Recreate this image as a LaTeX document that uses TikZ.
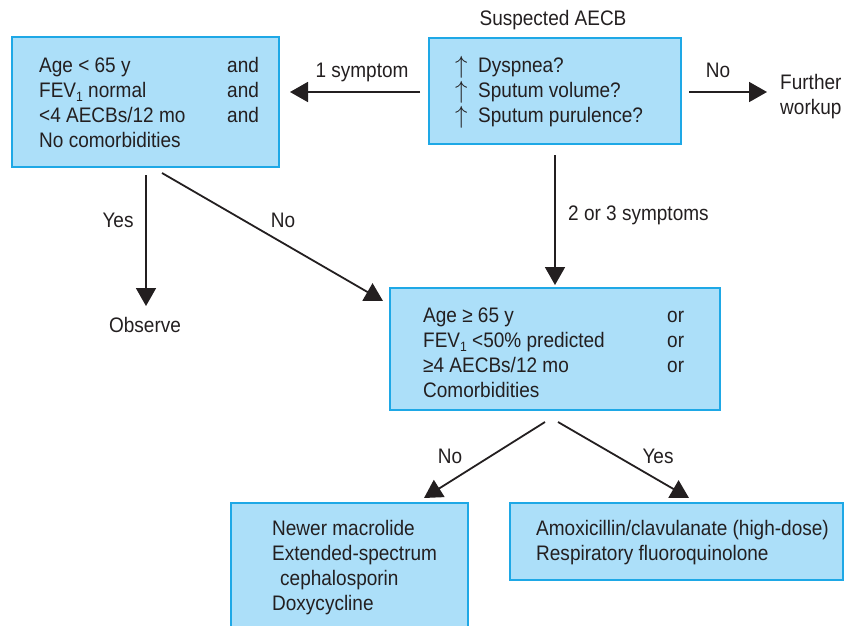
\documentclass[tikz,border=0pt]{standalone}
\usepackage{fontspec}
\setmainfont{Liberation Sans}[FakeStretch=0.905]
\usetikzlibrary{arrows.meta}
\definecolor{boxfill}{RGB}{172,223,249}
\definecolor{boxline}{RGB}{30,168,230}
\definecolor{ink}{RGB}{35,31,32}
\newcommand{\lowone}{\raisebox{-0.22em}{\fontsize{13.5}{13.5}\selectfont 1}}
\newcommand{\uparr}{\raisebox{-0.05em}{\fontsize{23}{23}\selectfont$\uparrow$}}
\tikzset{
  box/.style={draw=boxline, line width=2pt, fill=boxfill, inner sep=0pt, outer sep=0pt, anchor=north west},
  txt/.style={anchor=base west, inner sep=0pt, text=ink, font=\fontsize{21}{25}\selectfont},
  lbl/.style={anchor=base, inner sep=0pt, text=ink, font=\fontsize{21}{25}\selectfont},
  arr/.style={draw=ink, line width=1.8pt, -{Triangle[length=18pt,width=20pt]}},
}
\begin{document}
\begin{tikzpicture}[x=1pt,y=-1pt]
\useasboundingbox (0,0) rectangle (845,625);
% boxes
\node[box, minimum width=267pt, minimum height=130pt] (b1) at (12,37) {};
\node[box, minimum width=252pt, minimum height=106pt] (b2) at (429,38) {};
\node[box, minimum width=330pt, minimum height=122pt] (b3) at (390,288) {};
\node[box, minimum width=237pt, minimum height=130pt] (b4) at (231,503) {};
\node[box, minimum width=333pt, minimum height=77pt] (b5) at (510,503) {};
% box 1 text
\node[txt] (t11) at (39,72) {Age < 65 y};
\node[txt] (t12) at (39,97) {FEV\lowone{} normal};
\node[txt] (t13) at (39,122) {<4 AECBs/12 mo};
\node[txt] (t14) at (39,147) {No comorbidities};
\node[txt] (a11) at (227,72) {and};
\node[txt] (a12) at (227,97) {and};
\node[txt] (a13) at (227,122) {and};
% box 2 text
\node[lbl] (susp) at (553,25) {Suspected AECB};
\node[txt] (u1) at (455,72) {\uparr};
\node[txt] (u2) at (455,97) {\uparr};
\node[txt] (u3) at (455,122) {\uparr};
\node[txt] (t21) at (478,72) {Dyspnea?};
\node[txt] (t22) at (478,97) {Sputum volume?};
\node[txt] (t23) at (478,122) {Sputum purulence?};
% box 3 text
\node[txt] (t31) at (423,322) {Age ≥ 65 y};
\node[txt] (t32) at (423,347) {FEV\lowone{} <50\% predicted};
\node[txt] (t33) at (423,372) {≥4 AECBs/12 mo};
\node[txt] (t34) at (423,397) {Comorbidities};
\node[txt] (o31) at (667,322) {or};
\node[txt] (o32) at (667,347) {or};
\node[txt] (o33) at (667,372) {or};
% box 4 text
\node[txt] (t41) at (272,535) {Newer macrolide};
\node[txt] (t42) at (272,560) {Extended-spectrum};
\node[txt] (t43) at (280,585) {cephalosporin};
\node[txt] (t44) at (272,610) {Doxycycline};
% box 5 text
\node[txt] (t51) at (536,535) {Amoxicillin/clavulanate (high-dose)};
\node[txt] (t52) at (536,560) {Respiratory fluoroquinolone};
% free labels
\node[txt] (fur1) at (780,89) {Further};
\node[txt] (fur2) at (780,114) {workup};
\node[lbl] (obs) at (145,332) {Observe};
\node[lbl] (l1s) at (362,77) {1 symptom};
\node[lbl] (lno1) at (718,77) {No};
\node[txt] (l23) at (568,220) {2 or 3 symptoms};
\node[lbl] (lyes1) at (118,227) {Yes};
\node[lbl] (lno2) at (283,227) {No};
\node[lbl] (lno3) at (450,463) {No};
\node[lbl] (lyes3) at (658,463) {Yes};
% arrow end points
\coordinate (p1s) at (420,92);
\coordinate (p1e) at (290,92);
\coordinate (pns) at (689,92);
\coordinate (pne) at (767,92);
\coordinate (pvs) at (555,155);
\coordinate (pve) at (555,285);
\coordinate (pys) at (146,175);
\coordinate (pye) at (146,306);
\coordinate (pds) at (162,173);
\coordinate (pde) at (383,301);
\coordinate (pbls) at (545,422);
\coordinate (pble) at (424,498);
\coordinate (pbrs) at (558,422);
\coordinate (pbre) at (689,498);
% arrows
\draw[arr] (p1s) -- (p1e);
\draw[arr] (pns) -- (pne);
\draw[arr] (pvs) -- (pve);
\draw[arr] (pys) -- (pye);
\draw[arr] (pds) -- (pde);
\draw[arr] (pbls) -- (pble);
\draw[arr] (pbrs) -- (pbre);
\end{tikzpicture}
\end{document}
